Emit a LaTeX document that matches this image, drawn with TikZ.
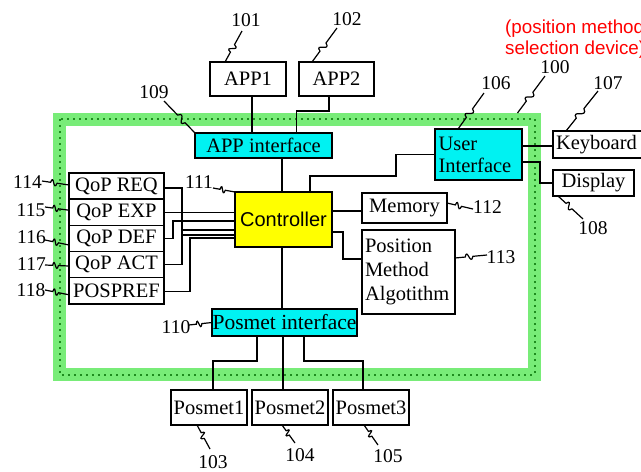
\documentclass[tikz,border=0pt]{standalone}
\usepackage{fontspec}
\setmainfont{Liberation Serif}
\newfontfamily\arialfont{Liberation Sans}
\usetikzlibrary{calc}
\definecolor{framegreen}{RGB}{120,236,120}
\definecolor{dotgreen}{RGB}{30,140,30}
\definecolor{ifcyan}{RGB}{0,242,242}
\definecolor{ctrlyellow}{RGB}{255,255,0}
\begin{document}
\begin{tikzpicture}[x=1pt,y=-1pt,
  box/.style={draw, line width=1.5pt, inner sep=0pt, outer sep=0pt,
    font=\fontsize{20.5}{24}\selectfont},
  wire/.style={line width=1.2pt},
  lbl/.style={inner sep=0pt, font=\fontsize{19.5}{22}\selectfont},
  frame/.style={draw=framegreen, line width=13pt, inner sep=0pt, outer sep=0pt,
    minimum width=475pt, minimum height=255.5pt},
  dotline/.style={dotgreen, line width=2pt, dash pattern=on 2pt off 4pt},
  lead/.style={line width=1.2pt, to path={
    (\tikztostart) -- ($(\tikztostart)!0.32!(\tikztotarget)$)
    .. controls ($(\tikztostart)!0.40!(\tikztotarget)!10pt!90:(\tikztotarget)$)
    and ($(\tikztostart)!0.46!(\tikztotarget)!10pt!-90:(\tikztotarget)$)
    .. ($(\tikztostart)!0.56!(\tikztotarget)$) -- (\tikztotarget)}}
]
\useasboundingbox (0,0) rectangle (641,472);

% device frame
\node[frame] (frame) at (297,246.75) {};
\draw[dotline] (frame.north west) rectangle (frame.south east);

% caption
\node[anchor=west, align=left, inner sep=0pt, text=red,
  font=\arialfont\fontsize{18.8}{21}\selectfont] (cap) at (505,39.5)
  {(position method\\selection device)};

% applications
\node[box, minimum width=76pt, minimum height=34pt] (app1) at (248,79) {APP1};
\node[box, minimum width=75pt, minimum height=34pt] (app2) at (336.5,79) {APP2};
\node[box, fill=ifcyan, minimum width=137pt, minimum height=25pt] (appif) at (263.5,145.5) {APP interface};

% user interface and peripherals
\node[box, fill=ifcyan, minimum width=87pt, minimum height=51pt, text width=80pt,
  align=left, inner xsep=3.5pt, font=\fontsize{20.5}{22}\selectfont] (ui) at (478.5,154.5) {User\\Interface};
\node[box, anchor=west, minimum height=27pt, text width=89pt, align=left, inner xsep=3pt] (kbd) at (553,144.5) {Keyboard};
\node[box, minimum width=81pt, minimum height=26pt] (disp) at (593.5,183) {Display};

% controller and its neighbours
\node[box, fill=ctrlyellow, minimum width=97pt, minimum height=55pt,
  font=\arialfont\fontsize{20}{24}\selectfont] (ctrl) at (283.5,219.5) {Controller};
\node[box, minimum width=85pt, minimum height=30pt] (mem) at (404.5,208) {Memory};
\node[box, minimum width=93pt, minimum height=84pt, text width=87pt, align=left,
  inner xsep=3pt, font=\fontsize{20.5}{24}\selectfont] (alg) at (408.5,272) {Position\\Method\\Algotithm};

% QoP parameter stack
\node[box, minimum width=95pt, minimum height=26.2pt] (req) at (116.5,186) {QoP REQ};
\node[box, minimum width=95pt, minimum height=26.2pt] (exp) at (116.5,212.2) {QoP EXP};
\node[box, minimum width=95pt, minimum height=26.2pt] (def) at (116.5,238.4) {QoP DEF};
\node[box, minimum width=95pt, minimum height=26.2pt] (act) at (116.5,264.6) {QoP ACT};
\node[box, minimum width=95pt, minimum height=26.2pt] (pp) at (116.5,290.8) {POSPREF};

% positioning methods
\node[box, fill=ifcyan, minimum width=145pt, minimum height=27pt,
  font=\fontsize{21.5}{24}\selectfont] (posif) at (284.5,322.5) {Posmet interface};
\node[box, minimum width=76pt, minimum height=35pt] (pm1) at (209,407.5) {Posmet1};
\node[box, minimum width=76pt, minimum height=35pt] (pm2) at (290,407.5) {Posmet2};
\node[box, minimum width=76pt, minimum height=35pt] (pm3) at (371,407.5) {Posmet3};

% wiring
\draw[wire] ([xshift=4pt]app1.south) -- ([xshift=4pt]app1.south |- appif.north);
\draw[wire] ([xshift=-7.5pt]app2.south) -- ++(0,15) -| ([xshift=33pt]appif.north);
\draw[wire] ([xshift=-1.5pt]ctrl.north) -- ([xshift=-1.5pt]ctrl.north |- appif.south);
\draw[wire] ([xshift=-1.5pt]ctrl.south) -- ([xshift=-1.5pt]ctrl.south |- posif.north);
\draw[wire] ([xshift=26.5pt]ctrl.north) -- ++(0,-16) -- ++(86,0) |- (ui.west);
\draw[wire] ([yshift=8.5pt]ui.east) -- ([yshift=8.5pt]ui.east -| kbd.west);
\draw[wire] ([yshift=-7.5pt]ui.east) -- ++(18,0) |- (disp.west);
\draw[wire] ([yshift=-3pt]mem.west) -- ([yshift=-3pt]mem.west -| ctrl.east);
\draw[wire] ([yshift=-12.5pt]ctrl.east) -- ++(11,0) |- ([yshift=13pt]alg.west);
\draw[wire] ([yshift=-2pt]req.east) -- ++(18,0) |- ([yshift=-15.5pt]ctrl.west);
\draw[wire] (exp.east) -- (exp.east -| ctrl.west);
\draw[wire] (def.east) -- ++(9,0) |- ([yshift=-1.5pt]ctrl.west);
\draw[wire] (act.east) -- ++(18,0) |- ([yshift=-10.5pt]ctrl.west);
\draw[wire] ([yshift=-1pt]pp.east) -- ++(26,0) |- ([yshift=-18.5pt]ctrl.west);
\draw[wire] ([xshift=-27.5pt]posif.south) -- ++(0,25) -| ([xshift=4pt]pm1.north);
\draw[wire] ([xshift=-1.5pt]posif.south) -- ([xshift=-1.5pt]posif.south |- pm2.north);
\draw[wire] ([xshift=19.5pt]posif.south) -- ++(0,25) -| ([xshift=-8pt]pm3.north);

% reference numerals
\node[lbl] (l101) at (246,20) {101};
\node[lbl] (l102) at (347,19) {102};
\node[lbl] (l109) at (154,92) {109};
\node[lbl] (l106) at (496,83) {106};
\node[lbl] (l100) at (555,67) {100};
\node[lbl] (l107) at (608,83) {107};
\node[lbl] (l108) at (593,228) {108};
\node[lbl] (l111) at (199,182) {111};
\node[lbl] (l112) at (487.5,207) {112};
\node[lbl] (l113) at (501,257) {113};
\node[lbl] (l114) at (27.5,182) {114};
\node[lbl] (l115) at (31,210) {115};
\node[lbl] (l116) at (31.5,237) {116};
\node[lbl] (l117) at (31.5,264) {117};
\node[lbl] (l118) at (31,290) {118};
\node[lbl] (l110) at (176,327) {110};
\node[lbl] (l103) at (213,462) {103};
\node[lbl] (l104) at (300,455) {104};
\node[lbl] (l105) at (388,456) {105};

% leader end points
\coordinate (s101) at ([xshift=-23pt]app1.north);
\coordinate (e101) at ([shift={(-4,11)}]l101.center);
\coordinate (s102) at ([xshift=-24.5pt]app2.north);
\coordinate (e102) at ([shift={(-10,9)}]l102.center);
\coordinate (e109) at ([shift={(10,9)}]l109.center);
\coordinate (s106) at ([xshift=-20.5pt]ui.north);
\coordinate (e106) at ([shift={(-12,10)}]l106.center);
\coordinate (s100) at ([shift={(-17,-6)}]frame.north east);
\coordinate (e100) at ([shift={(-10,9)}]l100.center);
\coordinate (s107) at ([xshift=13pt]kbd.north west);
\coordinate (e107) at ([shift={(-10,8)}]l107.center);
\coordinate (s108) at ([xshift=5pt]disp.south west);
\coordinate (e108) at ([shift={(-10,-9)}]l108.center);
\coordinate (s111) at ([shift={(14,6)}]l111.center);
\coordinate (s112) at ([yshift=5pt]mem.east);
\coordinate (e112) at ([shift={(-14.5,2)}]l112.center);
\coordinate (s113) at ([yshift=14pt]alg.east);
\coordinate (e113) at ([shift={(-14,-2)}]l113.center);
\coordinate (s114) at ([shift={(14.5,-1)}]l114.center);
\coordinate (s115) at ([shift={(14,-3)}]l115.center);
\coordinate (s116) at ([shift={(13.5,3)}]l116.center);
\coordinate (s117) at ([shift={(13.5,1)}]l117.center);
\coordinate (s118) at ([shift={(14,0)}]l118.center);
\coordinate (s110) at ([shift={(13,-2)}]l110.center);
\coordinate (s103) at ([xshift=-12pt]pm1.south);
\coordinate (e103) at ([shift={(-3,-13)}]l103.center);
\coordinate (s104) at ([xshift=-8pt]pm2.south);
\coordinate (e104) at ([shift={(-5,-12)}]l104.center);
\coordinate (s105) at ([xshift=-7pt]pm3.south);
\coordinate (e105) at ([shift={(-10,-11)}]l105.center);

% leaders
\draw[lead] (s101) to (e101);
\draw[lead] (s102) to (e102);
\draw[lead] (appif.north west) to (e109);
\draw[lead] (s106) to (e106);
\draw[lead] (s100) to (e100);
\draw[lead] (s107) to (e107);
\draw[lead] (s108) to (e108);
\draw[lead] (s111) to (ctrl.north west);
\draw[lead] (s112) to (e112);
\draw[lead] (s113) to (e113);
\draw[lead] (s114) to ([yshift=1pt]req.west);
\draw[lead] (s115) to ([yshift=2pt]exp.west);
\draw[lead] (s116) to ([yshift=-6.6pt]def.west);
\draw[lead] (s117) to ([yshift=-1.4pt]act.west);
\draw[lead] (s118) to ([yshift=-4pt]pp.west);
\draw[lead] (s110) to (posif.west);
\draw[lead] (s103) to (e103);
\draw[lead] (s104) to (e104);
\draw[lead] (s105) to (e105);
\end{tikzpicture}
\end{document}
